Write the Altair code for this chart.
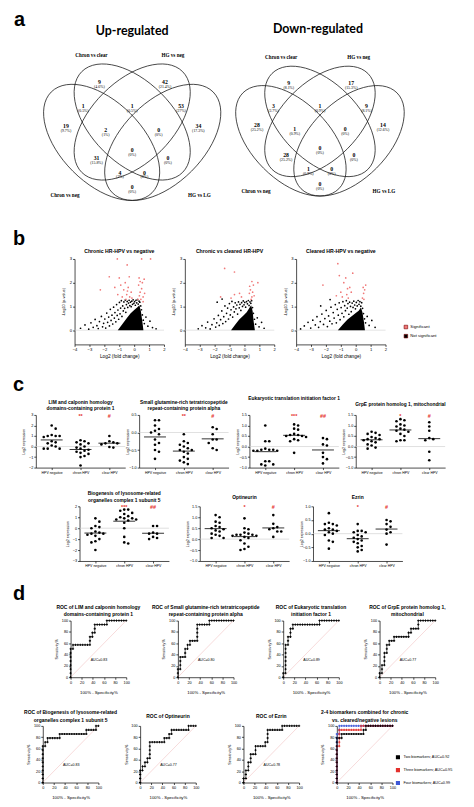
import altair as alt
import pandas as pd

FONT = "Liberation Sans"
SERIF = "Liberation Serif"
HEAD = "Lato"
SIG_RED = "#e5302c"

# ======================= DATA =======================
# ---- a: Venn diagrams (gene counts per region) ----
venn_headings = ["Up-regulated", "Down-regulated"]
venn_sets = ["Chron vs clear", "HG vs neg", "Chron vs neg", "HG vs LG"]
up_counts = [9, 42, 1, 1, 53, 19, 2, 0, 34, 0, 31, 0, 4, 0, 0]
down_counts = [9, 17, 3, 1, 9, 28, 1, 0, 14, 0, 28, 0, 1, 0, 0]

# ---- b: volcano plots (log2 FC, -log10 p) ----
volcano_titles = ["Chronic HR-HPV vs negative", "Chronic vs cleared HR-HPV",
                  "Cleared HR-HPV vs negative"]
sig_labels = ["Significant", "Not significant"]
vol1_core = [(-1.1, 0.0), (-0.8, 0.25), (-0.5, 0.5), (-0.25, 0.7), (0.0, 0.85), (0.2, 0.95),
             (0.35, 1.05), (0.45, 0.8), (0.55, 0.35), (0.62, 0.0)]
vol1_black = [(-3.6, 0.08), (-3.3, 0.22), (-3.05, 0.04), (-2.9, 0.31), (-2.75, 0.12), (-2.62, 0.45),
              (-2.5, 0.19), (-2.41, 0.07), (-2.33, 0.36), (-2.2, 0.58), (-2.12, 0.14), (-2.05, 0.29),
              (-1.97, 0.47), (-1.91, 0.09), (-1.84, 0.72), (-1.78, 0.33), (-1.71, 0.55), (-1.66, 0.18),
              (-1.6, 0.88), (-1.55, 0.41), (-1.49, 0.63), (-1.44, 0.26), (-1.38, 0.97), (-1.33, 0.51),
              (-1.29, 0.74), (-1.23, 0.35), (-1.18, 1.08), (-1.14, 0.62), (-1.09, 0.85), (-1.04, 0.46),
              (-0.99, 1.17), (-0.95, 0.69), (-0.91, 0.93), (-0.86, 1.24), (-0.82, 0.58), (-0.77, 1.02),
              (-0.73, 0.81), (-0.69, 1.19), (-0.64, 0.92), (-0.6, 1.27), (-0.56, 0.75), (-0.52, 1.08),
              (-0.47, 1.21), (-0.43, 0.96), (-0.38, 1.14), (-0.34, 1.26), (-0.29, 1.03), (-0.25, 1.18),
              (-0.2, 0.99), (-0.16, 1.22), (-0.11, 1.09), (-0.07, 1.28), (-0.02, 1.13), (0.03, 1.2),
              (0.08, 1.05), (0.12, 1.26), (0.17, 1.15), (0.22, 1.29), (0.27, 1.1), (0.33, 1.22),
              (0.38, 1.18), (0.44, 1.02), (0.49, 0.86), (0.55, 0.64), (0.61, 0.42), (0.68, 0.28),
              (0.79, 0.55), (0.92, 0.17), (1.06, 0.38), (1.23, 0.11), (1.47, 0.06)]
vol1_red = [(-1.13, 3.0), (0.5, 3.0), (1.1, 3.0), (-0.47, 2.75), (-1.67, 2.25), (-1.0, 2.2),
            (-0.33, 2.25), (0.33, 2.2), (0.67, 2.15), (-2.27, 1.7), (-0.9, 1.9), (-0.7, 1.7),
            (-0.6, 2.0), (-0.5, 1.5), (-0.4, 1.8), (-0.3, 1.4), (-0.2, 1.6), (-0.8, 1.4),
            (-1.1, 1.5), (0.3, 1.9), (0.4, 1.6), (0.5, 1.75), (0.6, 1.4), (0.45, 1.3),
            (0.7, 1.55), (0.35, 1.45), (0.55, 2.0), (0.25, 1.3), (-0.55, 1.3), (-1.3, 1.8),
            (0.4, 2.05), (0.6, 1.2), (-0.45, 1.65), (-0.15, 1.35)]
vol2_core = [(-0.9, 0.0), (-0.6, 0.25), (-0.35, 0.45), (-0.1, 0.6), (0.15, 0.75), (0.35, 0.95),
             (0.45, 1.05), (0.55, 0.8), (0.62, 0.35), (0.7, 0.0)]
vol2_black = [(-3.1, 0.06), (-2.85, 0.19), (-2.6, 0.1), (-2.47, 0.34), (-2.3, 0.05), (-2.18, 0.23),
              (-2.04, 0.48), (-1.93, 0.13), (-1.86, 0.31), (-1.75, 0.62), (-1.69, 0.2), (-1.6, 0.44),
              (-1.52, 0.81), (-1.45, 0.28), (-1.39, 0.57), (-1.31, 1.02), (-1.26, 0.36), (-1.2, 0.71),
              (-1.13, 0.93), (-1.07, 0.47), (-1.01, 1.12), (-0.95, 0.64), (-0.9, 0.86), (-0.84, 1.21),
              (-0.79, 0.55), (-0.73, 0.98), (-0.68, 0.77), (-0.62, 1.15), (-0.57, 0.9), (-0.51, 1.06),
              (-0.46, 0.68), (-0.4, 1.19), (-0.35, 0.94), (-0.3, 1.09), (-0.24, 0.83), (-0.19, 1.16),
              (-0.13, 1.0), (-0.08, 1.23), (-0.03, 1.07), (0.02, 1.17), (0.08, 0.97), (0.14, 1.2),
              (0.2, 1.11), (0.26, 1.25), (0.31, 1.04), (0.37, 1.19), (0.43, 1.13), (0.48, 1.24),
              (0.54, 0.95), (0.6, 0.71), (0.67, 0.46), (0.75, 0.25), (0.86, 0.52), (0.98, 0.14),
              (1.15, 0.33), (1.32, 0.08), (-1.83, 1.18), (-1.5, 1.31)]
vol2_red = [(-1.33, 2.6), (-0.67, 2.45), (-0.33, 1.55), (0.33, 1.55), (0.6, 1.9), (0.9, 2.0),
            (-0.67, 1.5), (0.4, 1.7), (0.5, 1.4), (0.45, 1.3), (0.55, 1.6), (0.35, 1.85),
            (0.5, 2.05), (-0.2, 1.4), (-0.9, 1.35), (0.65, 1.45), (-1.6, 1.4)]
vol3_core = [(-1.2, 0.0), (-0.85, 0.25), (-0.55, 0.45), (-0.25, 0.6), (0.0, 0.72), (0.2, 0.82),
             (0.35, 0.95), (0.45, 0.75), (0.55, 0.35), (0.62, 0.0)]
vol3_black = [(-3.7, 0.05), (-3.45, 0.18), (-3.2, 0.33), (-3.02, 0.09), (-2.88, 0.42), (-2.71, 0.22),
              (-2.6, 0.57), (-2.49, 0.12), (-2.38, 0.36), (-2.27, 0.68), (-2.16, 0.24), (-2.07, 0.49),
              (-1.98, 0.83), (-1.9, 0.15), (-1.82, 0.6), (-1.74, 0.38), (-1.66, 0.97), (-1.59, 0.27),
              (-1.51, 0.74), (-1.45, 0.51), (-1.37, 1.08), (-1.3, 0.31), (-1.24, 0.88), (-1.17, 0.63),
              (-1.11, 1.15), (-1.05, 0.44), (-0.98, 0.95), (-0.92, 0.71), (-0.86, 1.2), (-0.8, 0.56),
              (-0.74, 1.03), (-0.69, 0.82), (-0.63, 1.24), (-0.57, 0.93), (-0.52, 1.12), (-0.46, 0.67),
              (-0.41, 1.18), (-0.35, 1.0), (-0.3, 0.78), (-0.24, 1.14), (-0.18, 0.96), (-0.13, 1.22),
              (-0.07, 1.06), (-0.02, 0.9), (0.04, 1.17), (0.1, 1.02), (0.16, 1.25), (0.22, 1.09),
              (0.28, 1.2), (0.34, 1.01), (0.4, 1.16), (0.46, 0.92), (0.52, 0.7), (0.59, 0.48),
              (0.66, 0.31), (0.77, 0.58), (0.9, 0.2), (1.08, 0.41), (1.3, 0.12), (-2.35, 1.02),
              (-1.72, 1.29)]
vol3_red = [(-1.2, 2.8), (-1.1, 2.3), (-0.67, 2.2), (-2.2, 1.9), (-0.8, 2.0), (-0.4, 1.8),
            (0.67, 1.9), (0.53, 1.55), (-1.0, 1.6), (-0.9, 1.4), (-0.6, 1.5), (-0.5, 1.35),
            (-0.3, 1.6), (-1.3, 1.45), (0.45, 1.35), (0.6, 1.7), (0.5, 1.8), (-0.2, 2.4),
            (-0.55, 1.75), (0.55, 1.3)]

# ---- c: log2 expression per group ----
groups = ["HPV negative", "chron HPV", "clear HPV"]
lim_vals = [[2.0, 1.7, 1.1, 1.0, 1.0, 1.0, 0.9, 0.5, 0.4, 0.3, 0.1, 0.0, -0.2, -0.2, -0.2],
            [0.6, 0.5, 0.4, 0.3, 0.2, 0.0, -0.1, -0.2, -0.3, -0.4, -0.5, -0.6, -0.7, -0.9, -1.0, -1.8],
            [1.0, 0.5, 0.4, 0.3, 0.3, 0.2, -0.05, -0.1]]
sgt_vals = [[0.35, 0.35, 0.2, 0.1, 0.05, 0.0, -0.05, -0.2, -0.3, -0.35, -0.5, -0.55, -0.75],
            [-0.05, -0.25, -0.3, -0.35, -0.4, -0.45, -0.5, -0.5, -0.55, -0.6, -0.7, -0.75, -0.8, -0.85, -0.9],
            [0.15, 0.1, -0.05, -0.2, -0.2, -0.3, -0.45, -0.5]]
eif_vals = [[1.0, 0.25, 0.25, -0.1, -0.15, -0.15, -0.15, -0.2, -0.2, -0.2, -0.7, -0.7, -0.85, -0.85, -0.9],
            [1.05, 1.0, 0.85, 0.8, 0.6, 0.55, 0.55, 0.5, 0.5, 0.45, 0.35, 0.3, 0.25, -0.3],
            [0.4, 0.35, 0.1, 0.05, -0.3, -0.5, -0.6, -0.8]]
grpe_vals = [[0.7, 0.65, 0.6, 0.55, 0.45, 0.4, 0.35, 0.35, 0.3, 0.25, 0.2, 0.1, 0.05, -0.05, -0.1],
             [1.3, 1.25, 1.2, 1.05, 1.0, 0.95, 0.85, 0.8, 0.75, 0.7, 0.6, 0.5, 0.3, 0.3, 0.25],
             [1.15, 0.95, 0.75, 0.4, 0.35, 0.3, -0.25, -0.65]]
bloc_vals = [[0.9, 0.6, 0.1, 0.2, 0.0, -0.3, -0.4, -0.5, -0.5, -0.6, -0.7, -1.0, -1.3, -1.2, -2.0],
             [1.7, 1.7, 1.6, 1.4, 1.3, 1.1, 1.0, 0.9, 0.9, 0.8, 0.8, 0.7, 0.5, 0.0, -0.8, -1.3, -1.4],
             [0.2, 0.2, -0.4, -0.5, -0.5, -0.8, -0.9, -1.0]]
optn_vals = [[1.1, 1.0, 0.8, 0.75, 0.6, 0.55, 0.5, 0.45, 0.4, 0.35, 0.25, 0.15, 0.2, 0.05, 0.05],
             [0.95, 0.5, 0.45, 0.3, 0.25, 0.2, 0.2, 0.2, 0.15, 0.15, 0.1, 0.05, -0.05, -0.2, -0.35, -0.45, -0.5],
             [1.1, 0.7, 0.55, 0.5, 0.45, 0.35, 0.35, 0.1]]
ezr_vals = [[0.75, 0.4, 0.35, 0.35, 0.3, 0.2, 0.15, 0.15, 0.1, 0.05, 0.0, -0.05, -0.25, -0.3, -0.55],
            [0.35, 0.1, 0.1, 0.05, 0.05, -0.05, -0.1, -0.15, -0.2, -0.25, -0.3, -0.35, -0.45, -0.5, -0.6, -0.65],
            [0.5, 0.45, 0.35, 0.25, 0.15, 0.05, 0.0, -0.4]]

# ---- d: ROC staircases: U = next positive (1/14), R = next negative (1/23) ----
N_POS, N_NEG = 14, 23
roc_titles = [["ROC of LIM and calponin homology", "domains-containing protein 1"],
              ["ROC of Small glutamine-rich tetratricopeptide", "repeat-containing protein alpha"],
              ["ROC of Eukaryotic translation", "initiation factor 1"],
              ["ROC of GrpE protein homolog 1,", "mitochondrial"],
              ["ROC of Biogenesis of lysosome-related", "organelles complex 1 subunit 5"],
              ["ROC of Optineurin"],
              ["ROC of Ezrin"],
              ["2-4 biomarkers combined for chronic", "vs. cleared/negative lesions"]]
roc_moves = ["U7 R1 U1 R7 U2 R1 U1 R1 U2 R5 U1 R8",
             "U2 R1 U3 R2 U2 R1 U1 R1 U1 R3 U4 R5 U1 R10",
             "U1 R1 U7 R1 U2 R1 U2 R1 U1 R11 U1 R8",
             "U1 R1 U2 R1 U3 R1 U2 R1 U1 R2 U1 R6 U1 R1 U1 R3 U2 R7",
             "U9 R1 U1 R1 U1 R5 U1 R11 U1 R4 U1 R1",
             "U3 R1 U1 R1 U1 R1 U1 R1 U4 R6 U1 R2 U1 R1 U1 R7 U1 R3",
             "U1 R1 U2 R1 U2 R1 U2 R2 U2 R4 U1 R1 U3 R6 U1 R7"]
roc_auc = ["AUC=0.83", "AUC=0.80", "AUC=0.89", "AUC=0.77", "AUC=0.83", "AUC=0.77", "AUC=0.78"]
combo_labels = ["Two biomarkers; AUC=0.92", "Three biomarkers; AUC=0.95", "Four biomarkers; AUC=0.99"]
combo_moves = ["U11 R2 U1 R9 U1 R1 U1 R11", "U9 R1 U4 R9 U1 R13", "U12 R1 U2 R22"]
combo_colors = ["#000000", "#e3312d", "#3d57d6"]

# ======================= HELPERS =======================
DUMMY = pd.DataFrame({"d": [0]})


def annot(text, x, y, size, weight="normal", align="center", baseline="middle",
          font=FONT, color="black", line_height=None):
    kw = dict(text=text, fontSize=size, fontWeight=weight, align=align,
              baseline=baseline, font=font, color=color)
    if line_height is not None:
        kw["lineHeight"] = line_height
    return alt.Chart(DUMMY).mark_text(**kw).encode(x=alt.value(x), y=alt.value(y))


def spacer(width, frame=None, letter=None):
    """Empty cell used to set gaps in a flush row; optionally fixes row extent and holds a panel letter."""
    layers = [alt.Chart(DUMMY).mark_point(opacity=0).encode(x=alt.value(0), y=alt.value(0))]
    if frame:
        top, bottom = frame
        layers.append(alt.Chart(DUMMY).mark_rule(color="white", strokeWidth=0.5).encode(
            x=alt.value(0.5), y=alt.value(-top), y2=alt.value(bottom)))
    if letter:
        txt, ly = letter
        layers.append(annot(txt, 2, ly, 20, "bold", align="left"))
    return alt.layer(*layers).properties(width=width, height=1)


def row(cells):
    return alt.hconcat(*cells, spacing=0, bounds="flush")


# ---------------- panel a ----------------
W_A, H_A = 458, 214
ELL_K = 0.5523
ELL_R = 0.2 / 0.35
ELLIPSE_PATH = (f"M 1 0 C 1 {ELL_R*ELL_K:.4f} {ELL_K} {ELL_R:.4f} 0 {ELL_R:.4f} "
                f"C {-ELL_K} {ELL_R:.4f} -1 {ELL_R*ELL_K:.4f} -1 0 "
                f"C -1 {-ELL_R*ELL_K:.4f} {-ELL_K} {-ELL_R:.4f} 0 {-ELL_R:.4f} "
                f"C {ELL_K} {-ELL_R:.4f} 1 {-ELL_R*ELL_K:.4f} 1 0 Z")
ELLIPSES_UV = [(0.35, 0.53, 45), (0.5, 0.43, 45), (0.5, 0.43, 135), (0.65, 0.53, 135)]
REGIONS_UV = [(0.339, 0.234), (0.661, 0.234), (0.26, 0.351), (0.5, 0.351), (0.74, 0.351),
              (0.175, 0.449), (0.37, 0.468), (0.63, 0.468), (0.825, 0.449), (0.5, 0.566),
              (0.325, 0.605), (0.675, 0.605), (0.44, 0.678), (0.56, 0.678), (0.5, 0.751)]
SETS_UV = [(0.30, 0.10), (0.70, 0.10), (0.17, 0.79), (0.83, 0.79)]
VENN_FRAMES = [(19.5, 24.0, 205.0, 122.0, 21.0), (213.5, 27.7, 195.0, 309.0, 19.0)]

ell_rows, num_rows, pct_rows, set_rows, head_rows = [], [], [], [], []
for (left, top, S, hx, hy), counts, heading in zip(VENN_FRAMES, [up_counts, down_counts],
                                                   venn_headings):
    for u, v, ang in ELLIPSES_UV:
        ell_rows.append({"x": left + u * S, "y": top + v * S,
                         "sz": 4 * (0.35 * S) ** 2, "ang": ang})
    total = sum(counts)
    for (u, v), c in zip(REGIONS_UV, counts):
        p = round(100 * c / total, 1)
        num_rows.append({"x": left + u * S, "y": top + v * S, "t": str(c)})
        pct_rows.append({"x": left + u * S, "y": top + v * S + 5, "t": f"({p:g}%)"})
    for (u, v), name in zip(SETS_UV, venn_sets):
        set_rows.append({"x": left + u * S, "y": top + v * S, "t": name})
    head_rows.append({"x": hx, "y": hy, "t": heading})

VX = alt.X("x:Q", scale=alt.Scale(domain=[0, W_A], nice=False, zero=False), axis=None)
VY = alt.Y("y:Q", scale=alt.Scale(domain=[0, H_A], nice=False, zero=False, reverse=True), axis=None)

venn_chart = alt.layer(
    alt.Chart(pd.DataFrame(ell_rows)).mark_point(
        shape=ELLIPSE_PATH, filled=False, opacity=1, color="#1a1a1a", strokeWidth=0.75
    ).encode(x=VX, y=VY, size=alt.Size("sz:Q", scale=None, legend=None),
             angle=alt.Angle("ang:Q", scale=None)),
    alt.Chart(pd.DataFrame(num_rows)).mark_text(font=SERIF, fontWeight="bold", fontSize=5.8,
                                                color="black", baseline="middle").encode(
        x=VX, y=VY, text="t:N"),
    alt.Chart(pd.DataFrame(pct_rows)).mark_text(font=SERIF, fontSize=3.9, color="black",
                                                baseline="middle").encode(x=VX, y=VY, text="t:N"),
    alt.Chart(pd.DataFrame(set_rows)).mark_text(font=SERIF, fontWeight="bold", fontSize=5.2,
                                                color="black", baseline="middle").encode(
        x=VX, y=VY, text="t:N"),
    alt.Chart(pd.DataFrame(head_rows)).mark_text(font=HEAD, fontWeight="bold", fontSize=12.5,
                                                 color="black", baseline="middle").encode(
        x=VX, y=VY, text="t:N"),
    annot("a", 3, 10, 20, "bold", align="left"),
).properties(width=W_A, height=H_A)


# ---------------- panel b ----------------
def volcano(title, black, red, core, legend=False):
    w, h = 90, 86
    xs = alt.Scale(domain=[-4, 2], nice=False, zero=False)
    ys = alt.Scale(domain=[-0.6, 3], nice=False, zero=False)
    xax = alt.Axis(values=[-4, -3, -2, -1, 0, 1, 2], title="Log2 (fold change)",
                   labelFontSize=4.2, titleFontSize=4.8, titleY=12, titleBaseline="middle")
    yax = alt.Axis(values=[0, 1, 2, 3], title="-Log10 (p-value)", labelFontSize=4.2,
                   titleFontSize=3.9, titleX=-11, titleBaseline="middle")
    X = lambda f: alt.X(f, scale=xs, axis=xax)
    Y = lambda f: alt.Y(f, scale=ys, axis=yax)
    pts = pd.DataFrame([{"x": a, "y": b, "sig": sig_labels[1]} for a, b in black] +
                       [{"x": a, "y": b, "sig": sig_labels[0]} for a, b in red])
    core_df = pd.DataFrame(core, columns=["x", "y"])
    if legend:
        leg = alt.Legend(orient="none", legendX=108, legendY=66, title=None, symbolType="square",
                         symbolSize=13, symbolStrokeColor="#7a0000", symbolStrokeWidth=0.6,
                         labelFontSize=4.2, labelFont=FONT, rowPadding=2.2, labelOffset=2,
                         padding=0)
    else:
        leg = None
    color = alt.Color("sig:N", scale=alt.Scale(domain=sig_labels, range=["#f07878", "#000000"]),
                      legend=leg)
    layers = [
        alt.Chart(pd.DataFrame({"y": [0]})).mark_rule(color="#cfcfcf", strokeWidth=0.6).encode(y=Y("y:Q")),
        alt.Chart(core_df).mark_area(color="black", opacity=1).encode(x=X("x:Q"), y=Y("y:Q")),
        alt.Chart(pts).mark_circle(size=3, opacity=1).encode(x=X("x:Q"), y=Y("y:Q"), color=color),
        annot(title, w / 2, -8, 5.2, "bold"),
    ]
    return alt.layer(*layers).properties(width=w, height=h)


# ---------------- panel c ----------------
def swarm_offsets(vals, ppu_y, d=4.0):
    placed = []
    offs = [0.0] * len(vals)
    order = sorted(range(len(vals)), key=lambda i: -vals[i])
    cands = [0.0]
    for k in range(1, 10):
        cands += [k * d, -k * d]
    for i in order:
        yp = vals[i] * ppu_y
        for c in cands:
            if all((c - ox) ** 2 + (yp - oy) ** 2 >= (0.9 * d) ** 2 for ox, oy in placed):
                offs[i] = c
                placed.append((c, yp))
                break
    return offs


def dot_panel(title_lines, title_y, vals3, ydom, yticks, yfmt, sig, h):
    w = 90
    xdom = [0.45, 3.55]
    xs = alt.Scale(domain=xdom, nice=False, zero=False)
    ys = alt.Scale(domain=ydom, nice=False, zero=False)
    xax = alt.Axis(values=[1, 2, 3], title=None, labelFontSize=3.5,
                   labelExpr="['', 'HPV negative', 'chron HPV', 'clear HPV'][datum.value]")
    yax = alt.Axis(values=yticks, format=yfmt, title="Log2 expression", labelFontSize=3.8,
                   titleFontSize=3.6, titleX=-12, titleBaseline="middle")
    ppu_y = h / (ydom[1] - ydom[0])
    ppu_x = w / (xdom[1] - xdom[0])
    rows = []
    for gi, vals in enumerate(vals3):
        for v, o in zip(vals, swarm_offsets(vals, ppu_y)):
            rows.append({"g": gi + 1, "v": v, "xp": gi + 1 + o / ppu_x})
    df = pd.DataFrame(rows)
    sig_df = pd.DataFrame({"g": [2, 3], "s": sig})
    layers = [
        alt.Chart(pd.DataFrame({"z": [0]})).mark_rule(color="#d2d2d2", strokeWidth=0.7).encode(
            y=alt.Y("z:Q", scale=ys, axis=yax)),
        alt.Chart(df).mark_circle(size=7, color="black", opacity=1).encode(
            x=alt.X("xp:Q", scale=xs, axis=xax), y=alt.Y("v:Q", scale=ys, axis=yax)),
        alt.Chart(df).transform_aggregate(m="mean(v)", groupby=["g"]).transform_calculate(
            x1="datum.g - 0.38", x2="datum.g + 0.38").mark_rule(color="black", strokeWidth=0.8).encode(
            x=alt.X("x1:Q", scale=xs, axis=xax), x2="x2:Q", y=alt.Y("m:Q", scale=ys, axis=yax)),
        alt.Chart(sig_df).mark_text(color=SIG_RED, fontSize=5.5, fontWeight="bold", font=FONT,
                                    baseline="middle").encode(
            x=alt.X("g:Q", scale=xs, axis=xax), y=alt.value(1), text="s:N"),
        annot(title_lines, w / 2, title_y, 4.9, "bold", line_height=7),
    ]
    return alt.layer(*layers).properties(width=w, height=h)


# ---------------- panel d ----------------
def staircase(moves, series):
    x = y = 0
    pts = [{"x": 0.0, "y": 0.0, "i": 0, "s": series}]
    for tok in moves.split():
        step, n = tok[0], int(tok[1:])
        for _ in range(n):
            if step == "U":
                y += 1
            else:
                x += 1
            pts.append({"x": x * 100 / N_NEG, "y": y * 100 / N_POS, "i": len(pts), "s": series})
    return pts


def roc_panel(title_lines, title_y, curves, auc=None, legend=False):
    w, h = 56, 57
    xs = alt.Scale(domain=[0, 100], nice=False, zero=False)
    ys = alt.Scale(domain=[0, 100], nice=False, zero=False)
    ticks = [0, 20, 40, 60, 80, 100]
    xax = alt.Axis(values=ticks, title="100% - Specificity%", labelFontSize=3.8,
                   titleFontSize=4.3, titleY=15, titleBaseline="middle")
    yax = alt.Axis(values=ticks, title="Sensitivity%", labelFontSize=3.8,
                   titleFontSize=3.8, titleX=-14, titleBaseline="middle")
    X = lambda f: alt.X(f, scale=xs, axis=xax)
    Y = lambda f: alt.Y(f, scale=ys, axis=yax)
    rows = []
    for moves, name in curves:
        rows += staircase(moves, name)
    df = pd.DataFrame(rows)
    if legend:
        color = alt.Color("s:N", scale=alt.Scale(domain=combo_labels, range=combo_colors),
                          legend=alt.Legend(orient="none", legendX=59, legendY=29, title=None,
                                            symbolType="square", symbolSize=7, labelFontSize=3.8,
                                            labelFont=FONT, rowPadding=4, labelOffset=3,
                                            padding=0))
    else:
        color = alt.value("black")
    layers = [
        alt.Chart(pd.DataFrame({"x": [0, 100], "y": [0, 100]})).mark_line(
            color="#f2c2c2", strokeWidth=0.6).encode(x=X("x:Q"), y=Y("y:Q")),
        alt.Chart(df).mark_line(strokeWidth=0.6).encode(
            x=X("x:Q"), y=Y("y:Q"), order="i:Q", color=color, detail="s:N"),
        alt.Chart(df).mark_point(shape="cross", filled=True, size=5, opacity=1).encode(
            x=X("x:Q"), y=Y("y:Q"), color=color),
        annot(title_lines, w / 2, title_y, 5.0, "bold", line_height=7.5),
    ]
    if auc:
        layers.append(alt.Chart(pd.DataFrame({"x": [51], "y": [31], "t": [auc]})).mark_text(
            fontSize=3.6, font=FONT, baseline="middle").encode(x=X("x:Q"), y=Y("y:Q"), text="t:N"))
    return alt.layer(*layers).properties(width=w, height=h)


# ======================= ROWS =======================
row_b = row([
    spacer(64, frame=(35, 86 + 22), letter=("b", -20)),
    volcano(volcano_titles[0], vol1_black, vol1_red, vol1_core),
    spacer(21),
    volcano(volcano_titles[1], vol2_black, vol2_red, vol2_core),
    spacer(22),
    volcano(volcano_titles[2], vol3_black, vol3_red, vol3_core, legend=True),
]).resolve_scale(color="independent")

dec = [-1.0, -0.5, 0.0, 0.5, 1.0, 1.5]
row_c1 = row([
    spacer(25, frame=(47, 53 + 12), letter=("c", -30)),
    dot_panel(["LIM and calponin homology", "domains-containing protein 1"], -12.5, lim_vals,
              [-2, 3], [-2, -1, 0, 1, 2, 3], "d", ["**", "#"], 53),
    spacer(14),
    dot_panel(["Small glutamine-rich tetratricopeptide", "repeat-containing protein alpha"], -12.5,
              sgt_vals, [-1.0, 0.5], [-1.0, -0.5, 0.0, 0.5], ".1f", ["**", "#"], 53),
    spacer(21),
    dot_panel(["Eukaryotic translation initiation factor 1"], -16, eif_vals, [-1.0, 1.5], dec,
              ".1f", ["***", "##"], 53),
    spacer(17),
    dot_panel(["GrpE protein homolog 1, mitochondrial"], -10, grpe_vals, [-1.0, 1.5], dec,
              ".1f", ["*", "#"], 53),
])

row_c2 = row([
    spacer(69, frame=(25, 55 + 14)),
    dot_panel(["Biogenesis of lysosome-related", "organelles complex 1 subunit 5"], -12, bloc_vals,
              [-3, 2], [-3, -2, -1, 0, 1, 2], "d", ["***", "##"], 55),
    spacer(31),
    dot_panel(["Optineurin"], -8, optn_vals, [-1.0, 1.5], dec, ".1f", ["*", "#"], 55),
    spacer(24),
    dot_panel(["Ezrin"], -8, ezr_vals, [-1.0, 1.0], [-1.0, -0.5, 0.0, 0.5, 1.0], ".1f",
              ["*", "#"], 55),
])

row_d1 = row([
    spacer(60, frame=(44, 57 + 20), letter=("d", -27)),
    roc_panel(roc_titles[0], -14, [(roc_moves[0], "a")], roc_auc[0]),
    spacer(52),
    roc_panel(roc_titles[1], -14, [(roc_moves[1], "a")], roc_auc[1]),
    spacer(50),
    roc_panel(roc_titles[2], -14, [(roc_moves[2], "a")], roc_auc[2]),
    spacer(41),
    roc_panel(roc_titles[3], -14, [(roc_moves[3], "a")], roc_auc[3]),
])

# combined curves drawn blue first, then red, black on top (legend keeps Two/Three/Four order)
combo_curves = list(zip(combo_moves, combo_labels))[::-1]
row_d2 = row([
    spacer(32, frame=(27, 57 + 17)),
    roc_panel(roc_titles[4], -13.5, [(roc_moves[4], "a")], roc_auc[4]),
    spacer(42),
    roc_panel(roc_titles[5], -10, [(roc_moves[5], "a")], roc_auc[5]),
    spacer(48),
    roc_panel(roc_titles[6], -10, [(roc_moves[6], "a")], roc_auc[6]),
    spacer(38),
    roc_panel(roc_titles[7], -13.5, combo_curves, None, legend=True),
]).resolve_scale(color="independent")

chart = alt.vconcat(venn_chart, row_b, row_c1, row_c2, row_d1, row_d2, spacing=0).resolve_scale(
    color="independent").properties(padding=0).configure_view(stroke=None).configure_axis(
    domainColor="black", domainWidth=0.7, tickColor="black", tickWidth=0.7, tickSize=2,
    labelFont=FONT, titleFont=FONT, labelColor="black", titleColor="black", grid=False,
    labelPadding=1, titleFontWeight="normal", labelFlush=False, labelOverlap=False)

chart.save("out.html", embed_options={"renderer": "svg", "actions": False})
